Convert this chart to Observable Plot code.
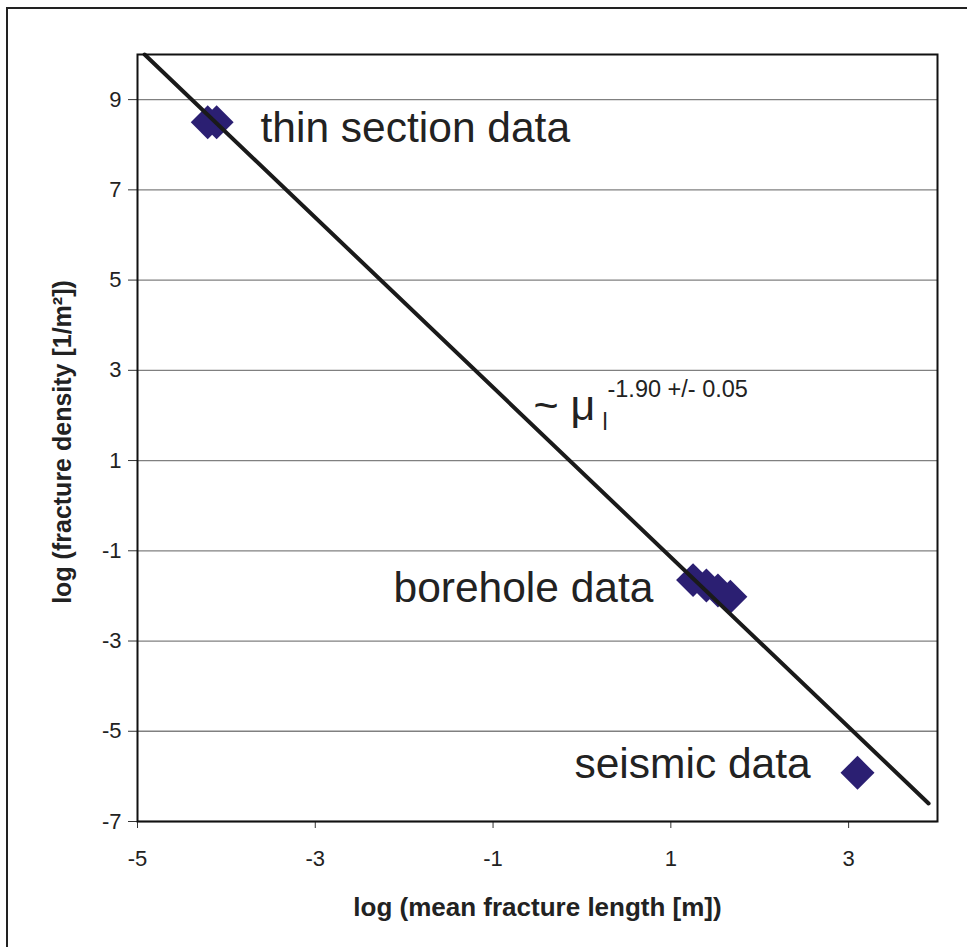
<!DOCTYPE html>
<html>
<head>
<meta charset="utf-8">
<script src="https://cdn.jsdelivr.net/npm/d3@7"></script>
<script src="https://cdn.jsdelivr.net/npm/@observablehq/plot@0.6"></script>
<style>
  html, body { margin: 0; padding: 0; background: #fff; }
  #wrap { position: relative; width: 967px; height: 947px; overflow: hidden; }
  #border { position: absolute; left: 6px; top: 7px; width: 1000px; height: 1000px;
            border-left: 2px solid #222; border-top: 2px solid #222; pointer-events: none; }
</style>
</head>
<body>
<div id="wrap"><div id="border"></div></div>
<script>
// ---- data ----
const thinX = [-4.21, -4.11];
const thinY = [8.50, 8.50];
const boreholeX = [1.25, 1.40, 1.53, 1.67];
const boreholeY = [-1.65, -1.77, -1.88, -2.02];
const seismicX = [3.10];
const seismicY = [-5.92];
const fitX = [-4.92, 3.90];
const fitY = [10.0, -6.6];
const xTicks = [-5, -3, -1, 1, 3];
const yTicks = [-7, -5, -3, -1, 1, 3, 5, 7, 9];
const groupLabels = ["thin section data", "borehole data", "seismic data"];
const fitLabel = "~ μ";
const fitSub = "l";
const fitExp = "-1.90 +/- 0.05";
const xTitle = "log (mean fracture length [m])";
const yTitle = "log (fracture density [1/m²])";

const points = [
  ...thinX.map((x, i) => ({x, y: thinY[i]})),
  ...boreholeX.map((x, i) => ({x, y: boreholeY[i]})),
  ...seismicX.map((x, i) => ({x, y: seismicY[i]}))
];
const fit = fitX.map((x, i) => ({x, y: fitY[i]}));

const chart = Plot.plot({
  width: 967,
  height: 947,
  marginLeft: 137,
  marginRight: 30,
  marginTop: 54,
  marginBottom: 126,
  x: {domain: [-5, 4]},
  y: {domain: [-7, 10]},
  style: {fontFamily: "'Liberation Sans', Arial, sans-serif", background: "transparent", color: "#222"},
  marks: [
    Plot.gridY(yTicks, {stroke: "#808080", strokeOpacity: 1, strokeWidth: 1.3}),
    Plot.axisX(xTicks, {tickSize: 7, label: null, stroke: "#333", strokeWidth: 1, tickFormat: () => ""}),
    Plot.axisY(yTicks, {tickSize: 9, label: null, stroke: "#333", strokeWidth: 1, tickFormat: () => ""}),
    Plot.text(xTicks, {x: d => d, frameAnchor: "bottom", dy: 29, text: d => String(d), textAnchor: "middle", lineAnchor: "top", fontSize: 22, fill: "#222"}),
    Plot.text(yTicks, {y: d => d, frameAnchor: "left", dx: -16, text: d => String(d), textAnchor: "end", lineAnchor: "middle", fontSize: 22, fill: "#222"}),
    Plot.dot(points, {x: "x", y: "y", symbol: "diamond2", r: 15.3, fill: "#2b1f72", stroke: "none"}),
    Plot.line(fit, {x: "x", y: "y", stroke: "#1a1a1a", strokeWidth: 4}),
    Plot.frame({stroke: "#111", strokeWidth: 2}),
    Plot.text([groupLabels[0]], {x: -3.616, y: 8.05, text: d => d, textAnchor: "start", lineAnchor: "bottom", fontSize: 42.5, fill: "#222"}),
    Plot.text([groupLabels[1]], {x: -2.12, y: -2.145, text: d => d, textAnchor: "start", lineAnchor: "bottom", fontSize: 42.5, fill: "#222"}),
    Plot.text([groupLabels[2]], {x: -0.084, y: -6.046, text: d => d, textAnchor: "start", lineAnchor: "bottom", fontSize: 42.5, fill: "#222"}),
    Plot.text([fitLabel], {x: -0.546, y: 1.888, text: d => d, textAnchor: "start", lineAnchor: "bottom", fontSize: 43, fill: "#222"}),
    Plot.text([fitSub], {x: 0.231, y: 1.667, text: d => d, textAnchor: "start", lineAnchor: "bottom", fontSize: 23, fill: "#222"}),
    Plot.text([fitExp], {x: 0.287, y: 2.398, text: d => d, textAnchor: "start", lineAnchor: "bottom", fontSize: 23.5, fill: "#222"}),
    Plot.text([xTitle], {frameAnchor: "bottom", dy: 94, text: d => d, textAnchor: "middle", lineAnchor: "bottom", fontSize: 26, fontWeight: "bold", fill: "#222"}),
    Plot.text([yTitle], {frameAnchor: "left", dx: -75, dy: 4, rotate: -90, text: d => d, textAnchor: "middle", lineAnchor: "middle", fontSize: 25, fontWeight: "bold", fill: "#222"})
  ]
});
document.getElementById("wrap").insertBefore(chart, document.getElementById("border"));
</script>
</body>
</html>
